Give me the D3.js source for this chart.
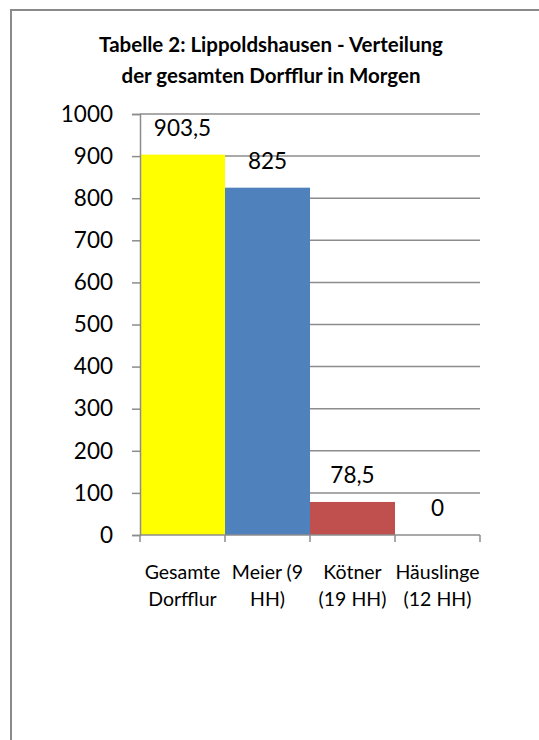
<!DOCTYPE html>
<html lang="de">
<head>
    <meta charset="UTF-8">
    <title>Lippoldshausen</title>
    <script src="https://d3js.org/d3.v7.min.js"></script>
    <style>
        body { margin: 0; overflow: hidden; background: #fff; }
        svg { display: block; font-family: Lato, "Open Sans", sans-serif; }
    </style>
</head>
<body>
<script>
    // Daten
    const categories = [["Gesamte", "Dorfflur"], ["Meier (9", "HH)"], ["Kötner", "(19 HH)"], ["Häuslinge", "(12 HH)"]];
    const values = [903.5, 825, 78.5, 0];
    const colors = ["#FFFF00", "#4F81BD", "#C0504D", "#8064A2"];
    const yTicks = [0, 100, 200, 300, 400, 500, 600, 700, 800, 900, 1000];
    const titleLines = ["Tabelle 2: Lippoldshausen - Verteilung", "der gesamten Dorfflur in Morgen"];

    const width = 539, height = 740;
    const plot = { left: 140, right: 480, top: 114, bottom: 535 };

    const de = d3.formatLocale({ decimal: ",", thousands: ".", grouping: [3], currency: ["", " €"] });
    const fmt = de.format("~g");

    const svg = d3.select("body").append("svg")
        .attr("width", width)
        .attr("height", height);

    // Rahmen (läuft rechts und unten aus dem Bild)
    svg.append("rect")
        .attr("x", 11).attr("y", 10)
        .attr("width", 700).attr("height", 900)
        .attr("fill", "#fff")
        .attr("stroke", "#8a8a8a")
        .attr("stroke-width", 2);

    // Titel
    svg.append("text")
        .attr("text-anchor", "middle")
        .attr("font-weight", "bold")
        .attr("font-size", 20.5)
        .attr("fill", "#000")
        .selectAll("tspan")
        .data(titleLines)
        .enter().append("tspan")
        .attr("x", 271)
        .attr("y", (d, i) => 52 + i * 31)
        .text(d => d);

    const x = d3.scaleBand()
        .domain(d3.range(values.length))
        .range([plot.left, plot.right])
        .padding(0);

    const y = d3.scaleLinear()
        .domain([0, 1000])
        .range([plot.bottom, plot.top]);

    // Gitterlinien
    svg.append("g")
        .selectAll("line")
        .data(yTicks.filter(d => d > 0))
        .enter().append("line")
        .attr("x1", plot.left).attr("x2", plot.right)
        .attr("y1", d => y(d)).attr("y2", d => y(d))
        .attr("stroke", "#8c8c8c")
        .attr("stroke-width", 1.5);

    // Balken
    svg.append("g")
        .selectAll("rect")
        .data(values)
        .enter().append("rect")
        .attr("x", (d, i) => x(i))
        .attr("width", x.bandwidth())
        .attr("y", d => y(d))
        .attr("height", d => y(0) - y(d))
        .attr("fill", (d, i) => colors[i]);

    // y-Achse
    const yAxis = svg.append("g")
        .attr("transform", `translate(${plot.left},0)`)
        .call(d3.axisLeft(y).tickValues(yTicks).tickSize(8).tickPadding(19).tickFormat(d3.format("d")));
    yAxis.select(".domain").attr("stroke", "#8c8c8c").attr("stroke-width", 1.5);
    yAxis.selectAll(".tick line").attr("stroke", "#8c8c8c").attr("stroke-width", 1.5);
    yAxis.selectAll(".tick text")
        .attr("font-size", 22.5)
        .attr("font-family", "Lato, 'Open Sans', sans-serif")
        .attr("fill", "#000");

    // x-Achse
    const xg = svg.append("g");
    xg.append("line")
        .attr("x1", plot.left).attr("x2", plot.right)
        .attr("y1", y(0)).attr("y2", y(0))
        .attr("stroke", "#8c8c8c").attr("stroke-width", 1.5);
    xg.selectAll(".xt")
        .data(d3.range(values.length + 1))
        .enter().append("line")
        .attr("x1", i => plot.left + i * x.step())
        .attr("x2", i => plot.left + i * x.step())
        .attr("y1", y(0)).attr("y2", y(0) + 7)
        .attr("stroke", "#8c8c8c").attr("stroke-width", 1.5);

    // Kategorien
    xg.selectAll(".cat")
        .data(categories)
        .enter().append("text")
        .attr("text-anchor", "middle")
        .attr("font-size", 19.5)
        .attr("fill", "#000")
        .each(function(lines, i) {
            d3.select(this).selectAll("tspan")
                .data(lines)
                .enter().append("tspan")
                .attr("x", x(i) + x.bandwidth() / 2)
                .attr("y", (d, j) => 579 + j * 27)
                .text(d => d);
        });

    // Wertbeschriftungen
    svg.append("g")
        .selectAll("text")
        .data(values)
        .enter().append("text")
        .attr("x", (d, i) => x(i) + x.bandwidth() / 2)
        .attr("y", d => y(d) - 19)
        .attr("text-anchor", "middle")
        .attr("font-size", 22.5)
        .attr("fill", "#000")
        .text(d => fmt(d));
</script>
</body>
</html>
